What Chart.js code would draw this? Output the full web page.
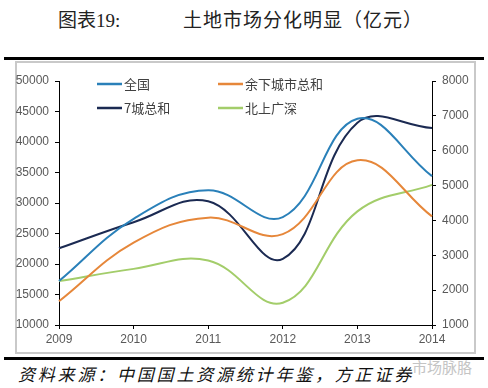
<!DOCTYPE html>
<html>
<head>
<meta charset="utf-8">
<script src="https://cdn.jsdelivr.net/npm/chart.js@4"></script>
<style>
  body { margin: 0; width: 488px; height: 388px; background: #fff; position: relative; overflow: hidden;
         font-family: "Noto Sans CJK SC", sans-serif; }
  .abs { position: absolute; white-space: nowrap; }
  #t1 { left: 58px; top: 5px; font-size: 19px; color: #222; font-family: "Liberation Serif", "Noto Sans CJK SC", serif; }
  #t2 { left: 183px; top: 5px; font-size: 19px; color: #222; letter-spacing: 1px; }
  #rule1 { left: 4px; top: 57px; width: 480px; height: 3px; background: #000; }
  #box { left: 15px; top: 61px; width: 457px; height: 289px; border: 2px solid #c9c9c9; }
  #rule2 { left: 4px; top: 357px; width: 480px; height: 3px; background: #000; }
  #src { left: 18px; top: 361px; font-size: 17px; font-style: italic; letter-spacing: 2.8px; color: #111; }
  #mark { left: 412px; top: 356px; font-size: 15px; color: #c4c4c4; }
  #chart { position: absolute; left: 0; top: 0; }
</style>
</head>
<body>
<div class="abs" id="t1">图表19:</div>
<div class="abs" id="t2">土地市场分化明显（亿元）</div>
<div class="abs" id="rule1"></div>
<div class="abs" id="box"></div>
<div class="abs" id="rule2"></div>
<div class="abs" id="src">资料来源：中国国土资源统计年鉴，方正证券</div>
<div class="abs" id="mark">市场脉胳</div>
<canvas id="chart" width="488" height="388"></canvas>
<script>
const years = ['2009', '2010', '2011', '2012', '2013', '2014'];
const national = [17200, 27400, 32100, 27700, 43800, 34400];   // 全国 (left)
const rest = [13900, 23500, 27600, 24900, 37000, 27800];       // 余下城市总和 (left)
const sevenCities = [3200, 3950, 4550, 2900, 6800, 6650];      // 7城总和 (right)
const tier1 = [2260, 2610, 2850, 1640, 4260, 5020];            // 北上广深 (right)

const tickFont = { family: 'Liberation Sans', size: 12 };
const tickColor = '#595959';

// legend drawn inside the plot, 2 columns
const legendPlugin = {
  id: 'innerLegend',
  afterDraw(chart) {
    const ctx = chart.ctx;
    const slots = [[97, 84], [218, 84], [97, 108], [218, 108]];
    ctx.save();
    ctx.font = '13px "Noto Sans CJK SC"';
    ctx.textBaseline = 'middle';
    chart.data.datasets.forEach((ds, i) => {
      const [x, y] = slots[i];
      ctx.strokeStyle = ds.borderColor;
      ctx.lineWidth = 2.5;
      ctx.beginPath();
      ctx.moveTo(x, y);
      ctx.lineTo(x + 25, y);
      ctx.stroke();
      ctx.fillStyle = '#404040';
      ctx.fillText(ds.label, x + 27, y);
    });
    ctx.restore();
  }
};

new Chart(document.getElementById('chart').getContext('2d'), {
  type: 'line',
  data: {
    labels: years,
    datasets: [
      { label: '全国', data: national, borderColor: '#2a80b9', yAxisID: 'y' },
      { label: '余下城市总和', data: rest, borderColor: '#e6873a', yAxisID: 'y' },
      { label: '7城总和', data: sevenCities, borderColor: '#1b2a52', yAxisID: 'y2' },
      { label: '北上广深', data: tier1, borderColor: '#a3cd6a', yAxisID: 'y2' }
    ]
  },
  options: {
    responsive: false,
    animation: false,
    devicePixelRatio: 1,
    layout: { padding: { left: 16, right: 13, top: 81, bottom: 36 } },
    elements: {
      line: { tension: 0.4, borderWidth: 2, fill: false },
      point: { radius: 0 }
    },
    plugins: { legend: { display: false }, tooltip: { enabled: false } },
    scales: {
      x: {
        offset: false,
        grid: { drawOnChartArea: false, tickLength: 4, tickColor: '#000' },
        border: { color: '#000', width: 1 },
        ticks: { color: tickColor, font: tickFont, padding: 3, maxRotation: 0 },
        afterFit(s) { s.height = 27; }
      },
      y: {
        position: 'left',
        min: 10000, max: 50000,
        grid: { drawOnChartArea: false, tickLength: 4, tickColor: '#000' },
        border: { color: '#000', width: 1 },
        ticks: { stepSize: 5000, color: tickColor, font: tickFont, padding: 6, callback: v => String(v) },
        afterFit(s) { s.width = 43; }
      },
      y2: {
        position: 'right',
        min: 1000, max: 8000,
        grid: { drawOnChartArea: false, tickLength: 4, tickColor: '#000' },
        border: { color: '#000', width: 1 },
        ticks: { stepSize: 1000, color: tickColor, font: tickFont, padding: 6, callback: v => String(v) },
        afterFit(s) { s.width = 43; }
      }
    }
  },
  plugins: [legendPlugin]
});
</script>
</body>
</html>
